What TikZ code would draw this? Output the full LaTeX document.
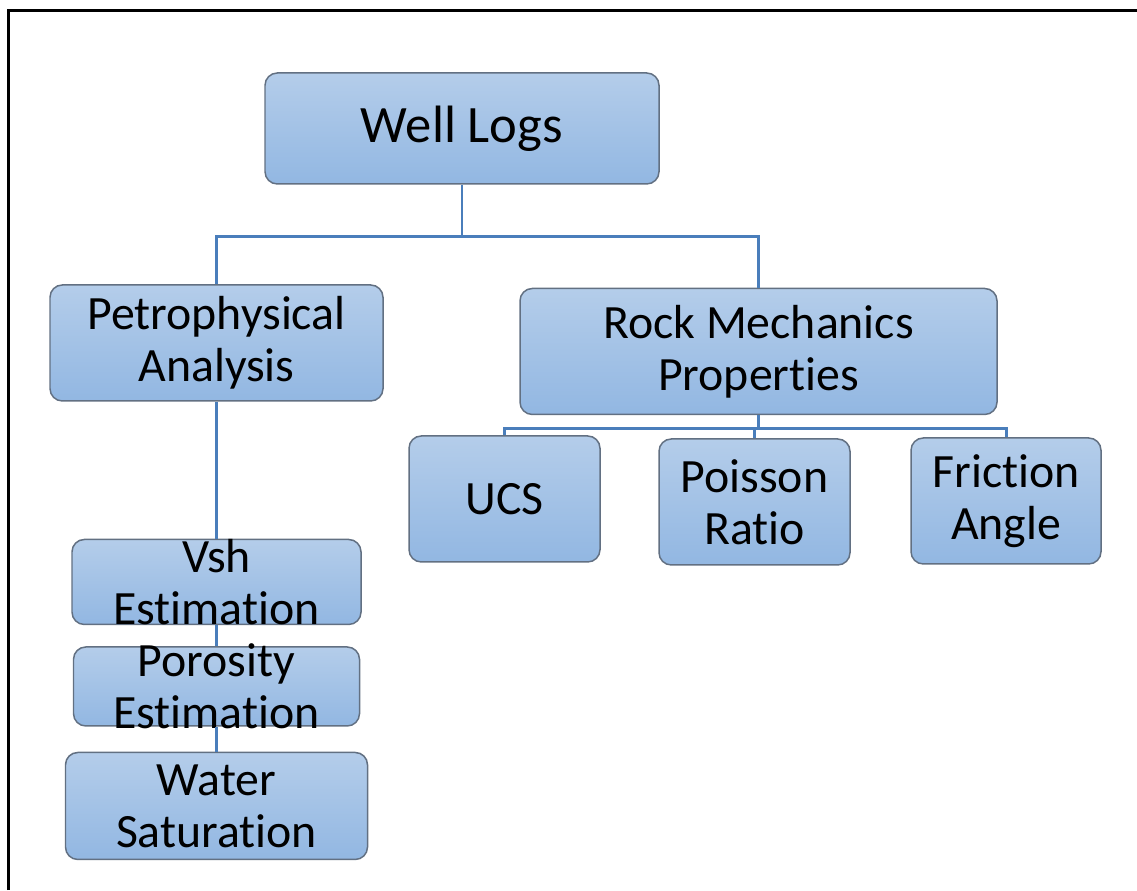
\documentclass[tikz,border=0pt]{standalone}
\usepackage{fontspec}
\setmainfont{Carlito}[Ligatures={NoCommon,NoContextual}]
\usetikzlibrary{positioning}
\definecolor{boxtop}{RGB}{180,205,234}
\definecolor{boxbottom}{RGB}{146,183,226}
\definecolor{boxline}{RGB}{98,112,130}
\definecolor{linkblue}{RGB}{74,126,187}
\newcommand{\boxfont}{\fontsize{27.2}{29.6}\selectfont}
\newcommand{\topfont}{\fontsize{29.9}{32}\selectfont}

\begin{document}
\begin{tikzpicture}[node distance=0.5cm,
    box/.style={draw=boxline, line width=0.85pt, rounded corners=7pt, top color=boxtop, bottom color=boxbottom, align=center, inner sep=0pt, font=\boxfont},
    boxtext/.style={font=\boxfont, align=center, inner sep=0pt},
    link/.style={draw=linkblue, line width=1.7pt}]
        \useasboundingbox (0,0) rectangle (22.74,17.8);
        \draw[line width=1.4pt] (0.17,0) -- (0.17,17.59) -- (22.74,17.59);
        \node (wl) [box, minimum width=7.88cm, minimum height=2.22cm, font=\topfont] at (9.24,15.23) {Well Logs};
        \node (pa) [box, minimum width=6.66cm, minimum height=2.32cm, below=1.99cm of wl, xshift=-4.91cm] {Petrophysical\\Analysis};
        \node (rm) [box, minimum width=9.54cm, minimum height=2.52cm, below=2.06cm of wl, xshift=5.93cm] {Rock Mechanics\\Properties};
        \node (ucs) [box, minimum width=3.82cm, minimum height=2.52cm, below=0.40cm of rm, xshift=-5.08cm] {UCS};
        \node (pr) [box, minimum width=3.82cm, minimum height=2.52cm, below=0.46cm of rm, xshift=-0.08cm] {Poisson\\Ratio};
        \node (fa) [box, minimum width=3.80cm, minimum height=2.52cm, below=0.44cm of rm, xshift=4.95cm] {Friction\\Angle};
        \node (vsh) [box, minimum width=5.78cm, minimum height=1.70cm, below=2.74cm of pa, label={[boxtext]center:Vsh\\Estimation}] {};
        \node (po) [box, minimum width=5.72cm, minimum height=1.58cm, below=0.42cm of vsh, label={[boxtext]center:Porosity\\Estimation}] {};
        \node (ws) [box, minimum width=6.04cm, minimum height=2.14cm, below=0.50cm of po] {Water\\Saturation};
        \coordinate [below=1.04cm of wl.south] (wlfork);
        \coordinate [below=0.26cm of rm.south] (rmfork);
        \draw[link] (wl.south) -- (wlfork) -| (pa.north);
        \draw[link] (wlfork) -| (rm.north);
        \draw[link] (rm.south) -- (rmfork) -| (ucs.north);
        \draw[link] (rmfork) -| (pr.north);
        \draw[link] (rmfork) -| (fa.north);
        \draw[link] (pa.south) -- (vsh.north);
        \draw[link] (vsh.south) -- (po.north);
        \draw[link] (po.south) -- (ws.north);
    \end{tikzpicture}
\end{document}
